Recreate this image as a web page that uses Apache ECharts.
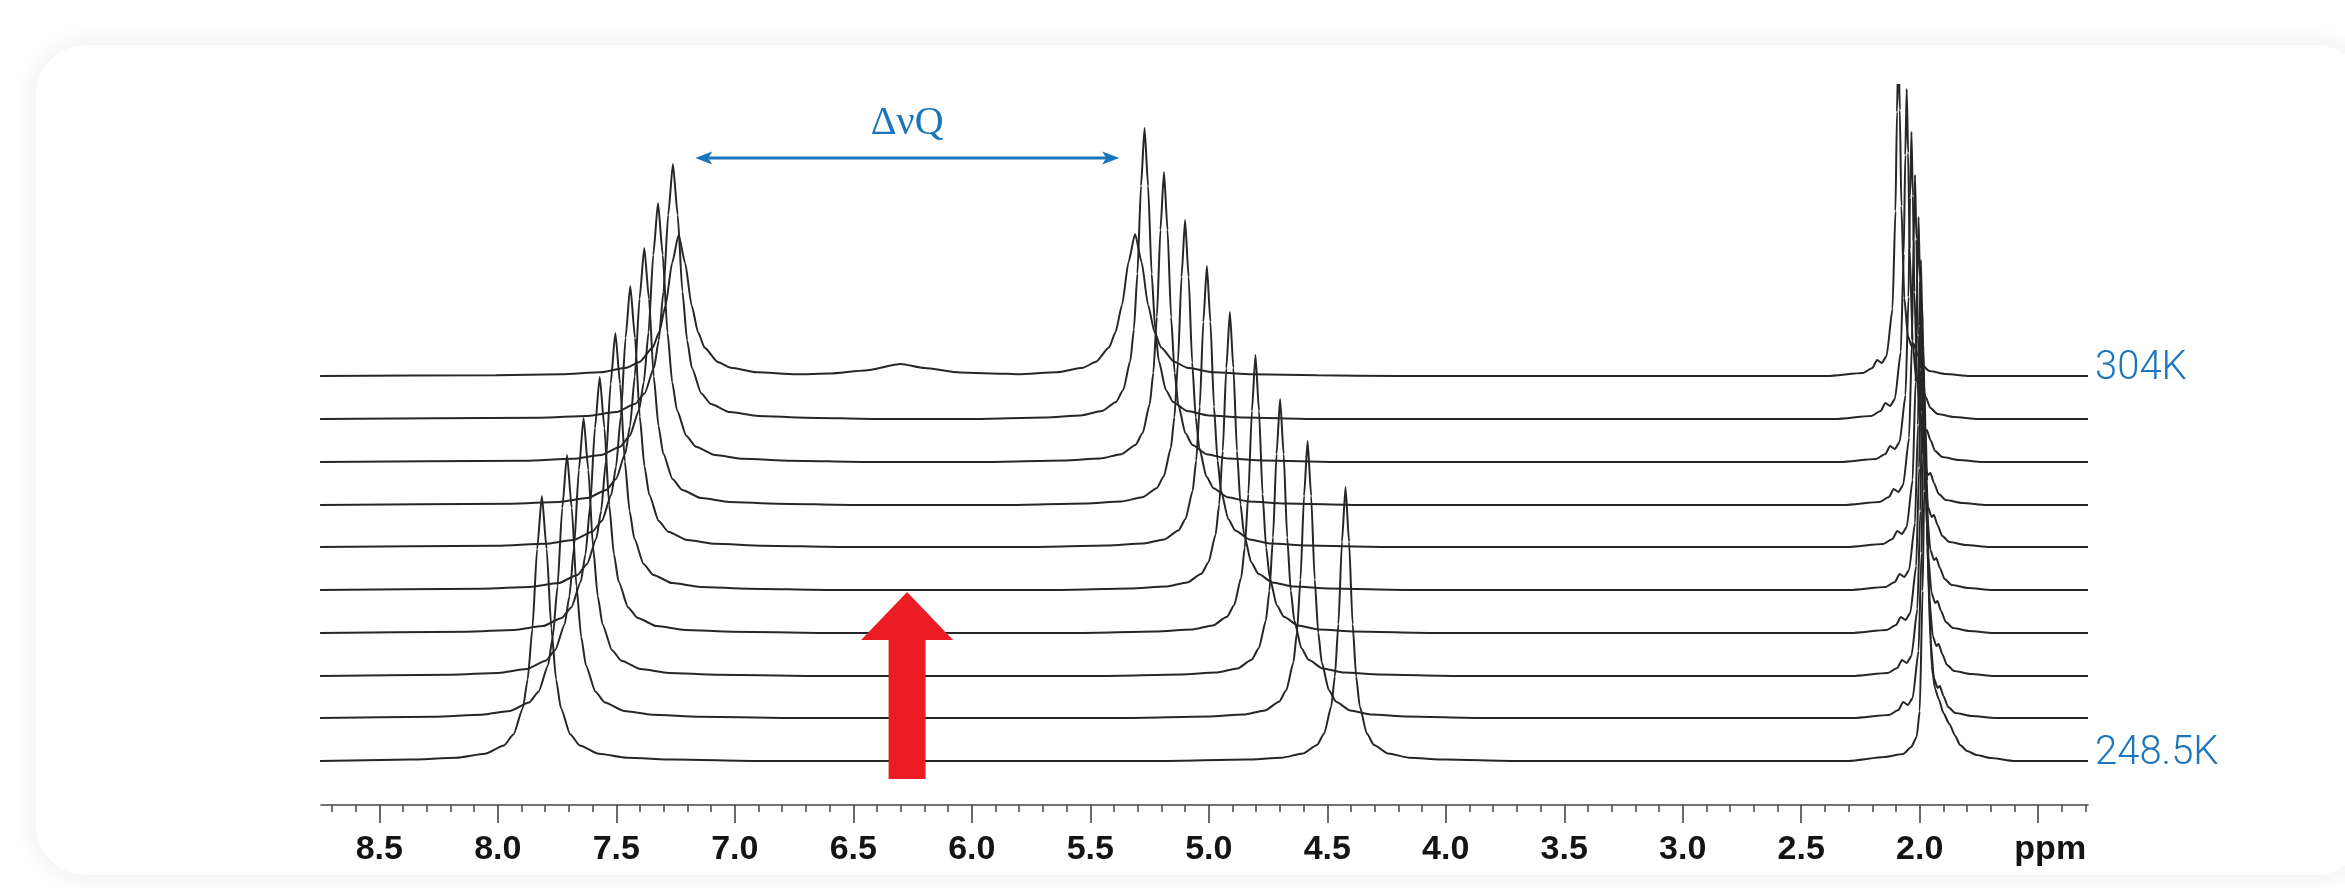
<!DOCTYPE html>
<html><head><meta charset="utf-8">
<script src="https://cdn.jsdelivr.net/npm/echarts@6/dist/echarts.min.js"></script>
<style>
html,body{margin:0;padding:0;background:#fff;width:2345px;height:888px;overflow:hidden}
#card{position:absolute;left:36px;top:45px;width:2330px;height:830px;border-radius:50px;background:#fff;box-shadow:0 0 28px 4px rgba(0,0,0,0.06)}
#chart{position:absolute;left:0;top:0;width:2345px;height:888px}
</style></head><body>
<div id="card"></div><div id="chart"></div>
<script>
// ---- axis ----
const ppmMin = 1.29, ppmMax = 8.746;
const majorTicks = [8.5, 8.0, 7.5, 7.0, 6.5, 6.0, 5.5, 5.0, 4.5, 4.0, 3.5, 3.0, 2.5, 2.0, 1.5];
const tickLabels = ['8.5', '8.0', '7.5', '7.0', '6.5', '6.0', '5.5', '5.0', '4.5', '4.0', '3.5', '3.0', '2.5', '2.0', 'ppm'];
const minorTicks = [8.7, 8.6, 8.4, 8.3, 8.2, 8.1, 7.9, 7.8, 7.7, 7.6, 7.4, 7.3, 7.2, 7.1, 6.9, 6.8, 6.7, 6.6, 6.4, 6.3, 6.2, 6.1, 5.9, 5.8, 5.7, 5.6, 5.4, 5.3, 5.2, 5.1, 4.9, 4.8, 4.7, 4.6, 4.4, 4.3, 4.2, 4.1, 3.9, 3.8, 3.7, 3.6, 3.4, 3.3, 3.2, 3.1, 2.9, 2.8, 2.7, 2.6, 2.4, 2.3, 2.2, 2.1, 1.9, 1.8, 1.7, 1.6, 1.4, 1.3];

// ---- stacking offsets of the spectra (bottom 248.5K -> top 304K) ----
const offsets = [44, 87, 129, 172, 215, 258, 300, 343, 386, 429];
const temperatureLabels = ['248.5K', '304K'];

// ---- spectra: [ppm, intensity] (bottom -> top) ----
const spectrum01 = [[8.75,0],[8.374,1.4],[8.174,3.2],[8.054,7.2],[7.974,15.6],[7.934,26.5],[7.894,53],[7.874,81.6],[7.854,132.5],[7.834,212],[7.814,265],[7.794,212],[7.774,132.5],[7.754,81.6],[7.734,53],[7.694,26.5],[7.654,15.6],[7.574,7.2],[7.454,3.2],[7.254,1.4],[6.9,0],[5.2,0],[4.843,1.4],[4.693,3.3],[4.603,7.4],[4.543,16.1],[4.513,27.4],[4.483,54.8],[4.468,84.4],[4.453,137],[4.438,219],[4.423,274],[4.408,219],[4.393,137],[4.378,84.4],[4.363,54.8],[4.333,27.4],[4.303,16.1],[4.243,7.4],[4.153,3.3],[4.003,1.4],[3.7,0],[2.3,0],[2.15,4],[2.07,7],[2.036,14],[2.013,24],[2.0,50],[1.988,170],[1.981,270],[1.975,330],[1.969,280],[1.962,185],[1.95,95],[1.935,72],[1.92,62],[1.9,48],[1.875,37],[1.85,25],[1.83,16],[1.8,10],[1.76,6],[1.7,3],[1.6,0],[1.29,0]];
const spectrum02 = [[8.75,0],[8.268,1.3],[8.068,3.2],[7.948,7.1],[7.868,15.5],[7.828,26.3],[7.788,52.6],[7.768,81],[7.748,131.5],[7.728,210],[7.708,263],[7.688,210],[7.668,131.5],[7.648,81],[7.628,52.6],[7.588,26.3],[7.548,15.5],[7.468,7.1],[7.348,3.2],[7.148,1.3],[6.8,0],[5.35,0],[5.003,1.4],[4.853,3.4],[4.763,7.5],[4.703,16.3],[4.673,27.7],[4.643,55.4],[4.628,85.3],[4.613,138.5],[4.598,222],[4.583,277],[4.568,222],[4.553,138.5],[4.538,85.3],[4.523,55.4],[4.493,27.7],[4.463,16.3],[4.403,7.5],[4.313,3.4],[4.163,1.4],[3.85,0],[2.28,0],[2.13,3],[2.09,8],[2.07,16],[2.05,13],[2.03,20],[2.005,67],[1.9925,165],[1.986,264],[1.98,330],[1.974,266],[1.9675,170],[1.955,78],[1.94,40],[1.925,30],[1.915,32],[1.90,22],[1.88,11],[1.85,5],[1.78,2],[1.68,0],[1.29,0]];
const spectrum03 = [[8.75,0],[8.198,1.3],[7.998,3.1],[7.878,7],[7.798,15.2],[7.758,25.8],[7.718,51.6],[7.698,79.5],[7.678,129],[7.658,206],[7.638,258],[7.618,206],[7.598,129],[7.578,79.5],[7.558,51.6],[7.518,25.8],[7.478,15.2],[7.398,7],[7.278,3.1],[7.078,1.3],[6.7,0],[5.45,0],[5.119,1.4],[4.969,3.4],[4.879,7.5],[4.819,16.3],[4.789,27.7],[4.759,55.4],[4.744,85.3],[4.729,138.5],[4.714,222],[4.699,277],[4.684,222],[4.669,138.5],[4.654,85.3],[4.639,55.4],[4.609,27.7],[4.579,16.3],[4.519,7.5],[4.429,3.4],[4.279,1.4],[3.95,0],[2.285,0],[2.135,3],[2.095,8],[2.075,16],[2.055,13],[2.035,20],[2.01,67],[1.9975,165],[1.991,264],[1.985,330],[1.979,266],[1.9725,170],[1.96,78],[1.945,40],[1.93,30],[1.92,32],[1.905,22],[1.885,11],[1.855,5],[1.785,2],[1.685,0],[1.29,0]];
const spectrum04 = [[8.75,0],[8.130,1.3],[7.930,3.1],[7.810,6.9],[7.730,15.1],[7.690,25.6],[7.650,51.2],[7.630,78.8],[7.610,128],[7.590,205],[7.570,256],[7.550,205],[7.530,128],[7.510,78.8],[7.490,51.2],[7.450,25.6],[7.410,15.1],[7.330,6.9],[7.210,3.1],[7.010,1.3],[6.65,0],[5.55,0],[5.223,1.4],[5.073,3.4],[4.983,7.5],[4.923,16.3],[4.893,27.8],[4.863,55.6],[4.848,85.6],[4.833,139],[4.818,222],[4.803,278],[4.788,222],[4.773,139],[4.758,85.6],[4.743,55.6],[4.713,27.8],[4.683,16.3],[4.623,7.5],[4.533,3.4],[4.383,1.4],[4.05,0],[2.29,0],[2.14,3],[2.10,8],[2.08,16],[2.06,13],[2.04,20],[2.015,67],[2.0025,165],[1.996,264],[1.99,330],[1.984,266],[1.9775,170],[1.965,78],[1.95,40],[1.935,30],[1.925,32],[1.91,22],[1.89,11],[1.86,5],[1.79,2],[1.69,0],[1.29,0]];
const spectrum05 = [[8.75,0],[8.064,1.3],[7.864,3.1],[7.744,6.9],[7.664,15.1],[7.624,25.7],[7.584,51.4],[7.564,79.2],[7.544,128.5],[7.524,206],[7.504,257],[7.484,206],[7.464,128.5],[7.444,79.2],[7.424,51.4],[7.384,25.7],[7.344,15.1],[7.264,6.9],[7.144,3.1],[6.944,1.3],[6.6,0],[5.65,0],[5.331,1.4],[5.181,3.4],[5.091,7.5],[5.031,16.3],[5.001,27.8],[4.971,55.6],[4.956,85.6],[4.941,139],[4.926,222],[4.911,278],[4.896,222],[4.881,139],[4.866,85.6],[4.851,55.6],[4.821,27.8],[4.791,16.3],[4.731,7.5],[4.641,3.4],[4.491,1.4],[4.15,0],[2.295,0],[2.145,3],[2.105,8],[2.085,16],[2.065,13],[2.045,20],[2.02,67],[2.0075,165],[2.001,264],[1.995,330],[1.989,266],[1.9825,170],[1.97,78],[1.955,40],[1.94,30],[1.93,32],[1.915,22],[1.895,11],[1.865,5],[1.795,2],[1.695,0],[1.29,0]];
const spectrum06 = [[8.75,0],[8.001,1.3],[7.801,3.2],[7.681,7],[7.601,15.3],[7.561,26.1],[7.521,52.2],[7.501,80.4],[7.481,130.5],[7.461,209],[7.441,261],[7.421,209],[7.401,130.5],[7.381,80.4],[7.361,52.2],[7.321,26.1],[7.281,15.3],[7.201,7],[7.081,3.2],[6.881,1.3],[6.55,0],[5.75,0],[5.428,1.4],[5.278,3.4],[5.188,7.6],[5.128,16.5],[5.098,28.1],[5.068,56.2],[5.053,86.5],[5.038,140.5],[5.023,225],[5.008,281],[4.993,225],[4.978,140.5],[4.963,86.5],[4.948,56.2],[4.918,28.1],[4.888,16.5],[4.828,7.6],[4.738,3.4],[4.588,1.4],[4.25,0],[2.305,0],[2.155,3],[2.115,8],[2.095,16],[2.075,13],[2.055,20],[2.03,67],[2.0175,165],[2.011,264],[2.005,330],[1.999,266],[1.9925,170],[1.98,78],[1.965,40],[1.95,30],[1.94,32],[1.925,22],[1.905,11],[1.875,5],[1.805,2],[1.705,0],[1.29,0]];
const spectrum07 = [[8.75,0],[7.942,1.3],[7.742,3.1],[7.622,6.9],[7.542,15.1],[7.502,25.7],[7.462,51.4],[7.442,79.2],[7.422,128.5],[7.402,206],[7.382,257],[7.362,206],[7.342,128.5],[7.322,79.2],[7.302,51.4],[7.262,25.7],[7.222,15.1],[7.142,6.9],[7.022,3.1],[6.822,1.3],[6.5,0],[5.85,0],[5.520,1.5],[5.370,3.5],[5.280,7.7],[5.220,16.8],[5.190,28.5],[5.160,57],[5.145,87.8],[5.130,142.5],[5.115,228],[5.100,285],[5.085,228],[5.070,142.5],[5.055,87.8],[5.040,57],[5.010,28.5],[4.980,16.8],[4.920,7.7],[4.830,3.5],[4.680,1.5],[4.35,0],[2.32,0],[2.17,3],[2.13,8],[2.11,16],[2.09,13],[2.07,20],[2.045,67],[2.0325,165],[2.026,264],[2.02,330],[2.014,266],[2.0075,170],[1.995,78],[1.98,40],[1.965,30],[1.955,32],[1.94,22],[1.92,11],[1.89,5],[1.82,2],[1.72,0],[1.29,0]];
const spectrum08 = [[8.75,0],[7.884,1.3],[7.684,3.2],[7.564,7],[7.484,15.2],[7.444,25.9],[7.404,51.8],[7.384,79.8],[7.364,129.5],[7.344,207],[7.324,259],[7.304,207],[7.284,129.5],[7.264,79.8],[7.244,51.8],[7.204,25.9],[7.164,15.2],[7.084,7],[6.964,3.2],[6.764,1.3],[6.45,0],[5.95,0],[5.609,1.5],[5.459,3.5],[5.369,7.8],[5.309,17.1],[5.279,29],[5.249,58],[5.234,89.3],[5.219,145],[5.204,232],[5.189,290],[5.174,232],[5.159,145],[5.144,89.3],[5.129,58],[5.099,29],[5.069,17.1],[5.009,7.8],[4.919,3.5],[4.769,1.5],[4.45,0],[2.335,0],[2.185,3],[2.145,8],[2.125,16],[2.105,13],[2.085,20],[2.06,67],[2.0475,165],[2.041,264],[2.035,330],[2.029,266],[2.0225,170],[2.01,78],[1.995,40],[1.98,30],[1.97,32],[1.955,22],[1.935,11],[1.905,5],[1.835,2],[1.735,0],[1.29,0]];
const spectrum09 = [[8.75,0],[7.821,1.3],[7.621,3.1],[7.501,6.9],[7.421,15],[7.381,25.5],[7.341,51],[7.321,78.5],[7.301,127.5],[7.281,204],[7.261,255],[7.241,204],[7.221,127.5],[7.201,78.5],[7.181,51],[7.141,25.5],[7.101,15],[7.021,6.9],[6.901,3.1],[6.701,1.3],[6.4,0],[6.0,0],[5.691,1.5],[5.541,3.6],[5.451,7.9],[5.391,17.1],[5.361,29.1],[5.331,58.2],[5.316,89.6],[5.301,145.5],[5.286,233],[5.271,291],[5.256,233],[5.241,145.5],[5.226,89.6],[5.211,58.2],[5.181,29.1],[5.151,17.1],[5.091,7.9],[5.001,3.6],[4.851,1.5],[4.55,0],[2.355,0],[2.205,3],[2.165,8],[2.145,16],[2.125,13],[2.105,20],[2.08,67],[2.0675,165],[2.061,264],[2.055,330],[2.049,266],[2.0425,170],[2.03,78],[2.015,40],[2.0,30],[1.99,32],[1.975,22],[1.955,11],[1.925,5],[1.855,2],[1.755,0],[1.29,0]];
const spectrum10 = [[8.75,0],[8.007,0.7],[7.732,1.7],[7.567,3.8],[7.457,8.3],[7.402,14.1],[7.347,28.2],[7.3195,43.4],[7.292,70.5],[7.2645,113],[7.237,141],[7.2095,113],[7.182,70.5],[7.1545,43.4],[7.127,28.2],[7.072,14.1],[7.017,8.3],[6.907,3.8],[6.742,1.7],[6.6,2.5],[6.45,5.5],[6.3,12],[6.2,8],[6.05,3.5],[5.85,2.2],[5.806,1.7],[5.641,3.8],[5.531,8.3],[5.476,14.2],[5.421,28.4],[5.3935,43.7],[5.366,71],[5.3385,114],[5.311,142],[5.2835,114],[5.256,71],[5.2285,43.7],[5.201,28.4],[5.146,14.2],[5.091,8.3],[4.981,3.8],[4.816,1.7],[4.541,0.7],[4.2,0],[2.39,0],[2.24,3],[2.20,8],[2.18,16],[2.16,13],[2.14,20],[2.115,67],[2.1025,165],[2.096,264],[2.09,330],[2.084,266],[2.0775,170],[2.065,78],[2.05,40],[2.035,30],[2.025,32],[2.01,22],[1.99,11],[1.96,5],[1.89,2],[1.79,0],[1.29,0]];

// ---- annotations ----
const splittingFrom = 7.167, splittingTo = 5.378, splittingLevel = 647;
const splittingLabel = 'ΔνQ';
const redArrowPpm = 6.273, redArrowTip = 213, redArrowTail = 26;

const spectra = [spectrum01, spectrum02, spectrum03, spectrum04, spectrum05, spectrum06, spectrum07, spectrum08, spectrum09, spectrum10];
const BLUE = '#1b75bc';

const series = spectra.map((s, i) => ({
  type: 'line', xAxisIndex: 0, yAxisIndex: 0,
  data: s.map(p => [p[0], p[1] + offsets[i]]),
  showSymbol: false, symbol: 'none', smooth: 0.2, smoothMonotone: 'x',
  lineStyle: {color: '#262626', width: 2}, silent: true, z: 2
}));

// temperature labels at the right end of the lowest and highest spectra
series.push({
  type: 'custom', coordinateSystem: 'cartesian2d', silent: true, z: 5, clip: false,
  data: [[ppmMin, offsets[0], 0], [ppmMin, offsets[offsets.length - 1], 1]],
  renderItem: (params, api) => {
    const p = api.coord([api.value(0), api.value(1)]);
    return {type: 'text', style: {text: temperatureLabels[api.value(2)], x: p[0] + 7, y: p[1] - 7, align: 'left', verticalAlign: 'middle',
      font: '300 40px Roboto, "Noto Sans", sans-serif', fill: BLUE}};
  }
});

series.push({
  type: 'custom', coordinateSystem: 'cartesian2d', silent: true, z: 5,
  data: [[splittingFrom, splittingTo, splittingLevel]],
  renderItem: (params, api) => {
    const a = api.coord([api.value(0), api.value(2)]);
    const b = api.coord([api.value(1), api.value(2)]);
    const hl = 17, hw = 6.5, notch = 4;
    return {type: 'group', children: [
      {type: 'line', shape: {x1: a[0] + hl - notch, y1: a[1], x2: b[0] - hl + notch, y2: b[1]}, style: {stroke: BLUE, lineWidth: 2.8}},
      {type: 'polygon', shape: {points: [[a[0], a[1]], [a[0] + hl, a[1] - hw], [a[0] + hl - notch, a[1]], [a[0] + hl, a[1] + hw]]}, style: {fill: BLUE}},
      {type: 'polygon', shape: {points: [[b[0], b[1]], [b[0] - hl, b[1] - hw], [b[0] - hl + notch, b[1]], [b[0] - hl, b[1] + hw]]}, style: {fill: BLUE}},
      {type: 'text', style: {text: splittingLabel, x: (a[0] + b[0]) / 2, y: a[1] - 35, align: 'center', verticalAlign: 'middle', font: '40px "Liberation Serif", "DejaVu Serif", serif', fill: BLUE}}
    ]};
  }
});

series.push({
  type: 'custom', coordinateSystem: 'cartesian2d', silent: true, z: 6,
  data: [[redArrowPpm, redArrowTip, redArrowTail]],
  renderItem: (params, api) => {
    const t = api.coord([api.value(0), api.value(1)]);
    const b = api.coord([api.value(0), api.value(2)]);
    const hw = 46, hh = 48, sw = 18.5;
    return {type: 'polygon', shape: {points: [
      [t[0], t[1]], [t[0] + hw, t[1] + hh], [t[0] + sw, t[1] + hh], [t[0] + sw, b[1]],
      [t[0] - sw, b[1]], [t[0] - sw, t[1] + hh], [t[0] - hw, t[1] + hh]
    ]}, style: {fill: '#ec1c24'}};
  }
});

const axisColor = '#454545';
const chart = echarts.init(document.getElementById('chart'), null, {renderer: 'canvas'});
chart.setOption({
  animation: false,
  backgroundColor: 'transparent',
  grid: {left: 321, right: 257, top: 85, bottom: 83, containLabel: false},
  xAxis: [{
    type: 'value', min: ppmMin, max: ppmMax, inverse: true, position: 'bottom',
    axisLine: {show: true, lineStyle: {color: axisColor, width: 1.6}},
    axisTick: {show: true, customValues: majorTicks, length: 18, lineStyle: {color: axisColor, width: 1.6}},
    axisLabel: {
      show: true, customValues: majorTicks, margin: 28,
      formatter: v => { const k = majorTicks.findIndex(m => Math.abs(m - v) < 1e-6); const t = k >= 0 ? tickLabels[k] : ''; return t === 'ppm' ? '{p|ppm}' : t; },
      fontSize: 34, fontWeight: 'bold', fontFamily: '"Liberation Sans", Arial, sans-serif', color: '#141414',
      rich: {p: {fontSize: 34, fontWeight: 'bold', fontFamily: '"Liberation Sans", Arial, sans-serif', color: '#141414', padding: [0, 0, 0, 24]}}
    },
    splitLine: {show: false}
  }, {
    type: 'value', min: ppmMin, max: ppmMax, inverse: true, position: 'bottom',
    axisLine: {show: false},
    axisTick: {show: true, customValues: minorTicks, length: 7, lineStyle: {color: axisColor, width: 1.5}},
    axisLabel: {show: false},
    splitLine: {show: false}
  }],
  yAxis: {type: 'value', min: 0, max: 720, show: false, splitLine: {show: false}},
  series: series
});
</script>
</body></html>
